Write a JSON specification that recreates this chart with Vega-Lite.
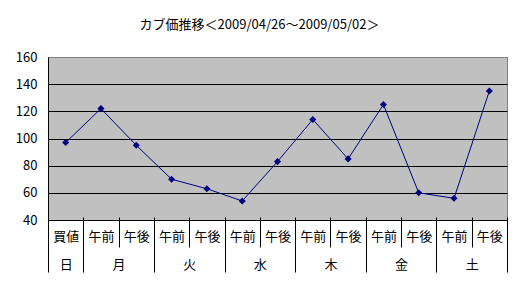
{
  "$schema": "https://vega.github.io/schema/vega-lite/v6.json",
  "width": 459,
  "height": 163,
  "autosize": {"type": "none"},
  "padding": {"left": 48, "top": 57, "right": 15, "bottom": 69},
  "background": "white",
  "title": {
    "text": "カブ価推移＜2009/04/26～2009/05/02＞",
    "font": "Noto Sans CJK JP",
    "fontSize": 13,
    "fontWeight": "normal",
    "color": "black",
    "anchor": "middle",
    "dx": -18,
    "offset": 19
  },
  "config": {
    "view": {"fill": "#C0C0C0", "stroke": "#808080", "strokeWidth": 1},
    "font": "Noto Sans CJK JP",
    "axis": {"labelFont": "Noto Sans CJK JP", "labelFontSize": 13, "labelColor": "black", "title": null}
  },
  "data": {
    "values": [
      {"i": 0, "label": "買値", "day": "日", "value": 97},
      {"i": 1, "label": "午前", "day": "月", "value": 122},
      {"i": 2, "label": "午後", "day": "月", "value": 95},
      {"i": 3, "label": "午前", "day": "火", "value": 70},
      {"i": 4, "label": "午後", "day": "火", "value": 63},
      {"i": 5, "label": "午前", "day": "水", "value": 54},
      {"i": 6, "label": "午後", "day": "水", "value": 83},
      {"i": 7, "label": "午前", "day": "木", "value": 114},
      {"i": 8, "label": "午後", "day": "木", "value": 85},
      {"i": 9, "label": "午前", "day": "金", "value": 125},
      {"i": 10, "label": "午後", "day": "金", "value": 60},
      {"i": 11, "label": "午前", "day": "土", "value": 56},
      {"i": 12, "label": "午後", "day": "土", "value": 135}
    ]
  },
  "encoding": {
    "y": {
      "field": "value",
      "type": "quantitative",
      "scale": {"domain": [40, 160], "nice": false, "zero": false},
      "axis": {
        "values": [40, 60, 80, 100, 120, 140, 160],
        "domainColor": "black",
        "ticks": false,
        "labelPadding": 11,
        "gridColor": {"condition": {"test": "datum.value == 160", "value": "#808080"}, "value": "black"},
        "gridOpacity": 1,
        "grid": true
      }
    }
  },
  "layer": [
    {
      "mark": {"type": "line", "color": "#000080", "strokeWidth": 1},
      "encoding": {
        "x": {
          "field": "i",
          "type": "quantitative",
          "scale": {"domain": [-0.5, 12.5], "nice": false, "zero": false},
          "axis": {
            "orient": "bottom",
            "values": [0, 1, 2, 3, 4, 5, 6, 7, 8, 9, 10, 11, 12],
            "labelExpr": "['買値','午前','午後','午前','午後','午前','午後','午前','午後','午前','午後','午前','午後'][datum.value]",
            "ticks": false,
            "grid": false,
            "domainColor": "black",
            "labelPadding": 10,
            "labelBaseline": "top",
            "labelFlush": false,
            "labelOverlap": false
          }
        }
      }
    },
    {
      "mark": {"type": "point", "shape": "diamond", "filled": true, "color": "#000080", "size": 50, "opacity": 1},
      "encoding": {
        "x": {
          "field": "i",
          "type": "quantitative",
          "scale": {"domain": [-0.5, 12.5], "nice": false, "zero": false},
          "axis": {
            "orient": "bottom",
            "values": [-0.5, 0.5, 1.5, 2.5, 3.5, 4.5, 5.5, 6.5, 7.5, 8.5, 9.5, 10.5, 11.5, 12.5],
            "labels": false,
            "domain": false,
            "grid": false,
            "offset": -3,
            "tickSize": 30,
            "tickColor": "black",
            "tickWidth": 1
          }
        }
      }
    },
    {
      "mark": {"type": "point", "opacity": 0},
      "encoding": {
        "x": {
          "field": "i",
          "type": "quantitative",
          "scale": {"domain": [-0.5, 12.5], "nice": false, "zero": false},
          "axis": {
            "orient": "bottom",
            "values": [-0.5, 0.5, 2.5, 4.5, 6.5, 8.5, 10.5, 12.5],
            "labels": false,
            "domain": false,
            "grid": false,
            "tickSize": 52,
            "tickColor": "black",
            "tickWidth": 1
          }
        }
      }
    },
    {
      "mark": {"type": "point", "opacity": 0},
      "encoding": {
        "x": {
          "field": "i",
          "type": "quantitative",
          "scale": {"domain": [-0.5, 12.5], "nice": false, "zero": false},
          "axis": {
            "orient": "bottom",
            "values": [0, 1.5, 3.5, 5.5, 7.5, 9.5, 11.5],
            "labelExpr": "datum.value == 0 ? '日' : datum.value == 1.5 ? '月' : datum.value == 3.5 ? '火' : datum.value == 5.5 ? '水' : datum.value == 7.5 ? '木' : datum.value == 9.5 ? '金' : '土'",
            "ticks": false,
            "domain": false,
            "grid": false,
            "labelPadding": 38,
            "labelBaseline": "top",
            "labelFlush": false,
            "labelOverlap": false
          }
        }
      }
    }
  ],
  "resolve": {"axis": {"x": "independent"}}
}
